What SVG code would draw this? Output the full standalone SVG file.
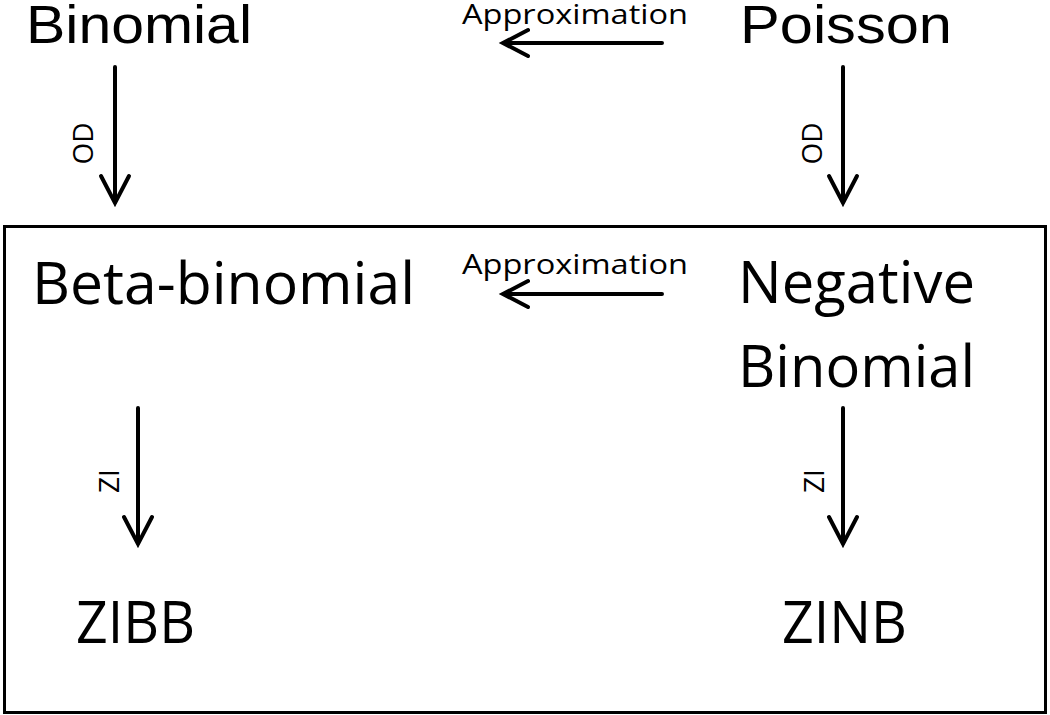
<svg xmlns="http://www.w3.org/2000/svg" width="1050" height="715" viewBox="0 0 1050 715">
<style>
.big{font-family:"Liberation Sans",Arial,sans-serif;font-size:53px;fill:#000}
.cal{font-family:"Open Sans","Noto Sans",sans-serif;font-size:59px;fill:#000}
.lab{font-family:"Open Sans","Noto Sans",sans-serif;font-size:28px;fill:#000}
.ln{stroke:#000;stroke-width:4;fill:none;stroke-linecap:round;stroke-linejoin:miter}
</style>
<rect x="4.5" y="226.5" width="1041" height="486" fill="none" stroke="#000" stroke-width="3"/>
<g id="binomial"><text class="big" x="26" y="43" textLength="226" lengthAdjust="spacingAndGlyphs">Binomial</text></g>
<g id="poisson"><text class="big" x="740" y="43" textLength="212" lengthAdjust="spacingAndGlyphs">Poisson</text></g>
<g id="betabinomial"><text class="cal" x="32" y="304" textLength="383" lengthAdjust="spacingAndGlyphs">Beta-binomial</text></g>
<g id="negbinomial"><text class="cal" x="738" y="303" textLength="237" lengthAdjust="spacingAndGlyphs">Negative</text><text class="cal" x="738" y="387" textLength="237" lengthAdjust="spacingAndGlyphs">Binomial</text></g>
<g id="zibb"><text class="cal" x="76" y="643" textLength="119" lengthAdjust="spacingAndGlyphs">ZIBB</text></g>
<g id="zinb"><text class="cal" x="782" y="643" textLength="125" lengthAdjust="spacingAndGlyphs">ZINB</text></g>
<g id="connectors">
<path class="ln" d="M662 43H503M528 30L503 43L528 56"/>
<text class="lab" x="462" y="24" textLength="226" lengthAdjust="spacingAndGlyphs">Approximation</text>
<path class="ln" d="M662 294H503M528 281L503 294L528 307"/>
<text class="lab" x="462" y="274" textLength="226" lengthAdjust="spacingAndGlyphs">Approximation</text>
<path class="ln" d="M115 67V203M101 176L115 203L129 176"/>
<text class="lab" transform="translate(93,143.5) rotate(-90)" text-anchor="middle">OD</text>
<path class="ln" d="M843 67V203M829 176L843 203L857 176"/>
<text class="lab" transform="translate(822,143.5) rotate(-90)" text-anchor="middle">OD</text>
<path class="ln" d="M138 408V544M124 517L138 544L152 517"/>
<text class="lab" transform="translate(119,481) rotate(-90)" text-anchor="middle">ZI</text>
<path class="ln" d="M843 408V544M829 517L843 544L857 517"/>
<text class="lab" transform="translate(824,481) rotate(-90)" text-anchor="middle">ZI</text>
</g>
</svg>
